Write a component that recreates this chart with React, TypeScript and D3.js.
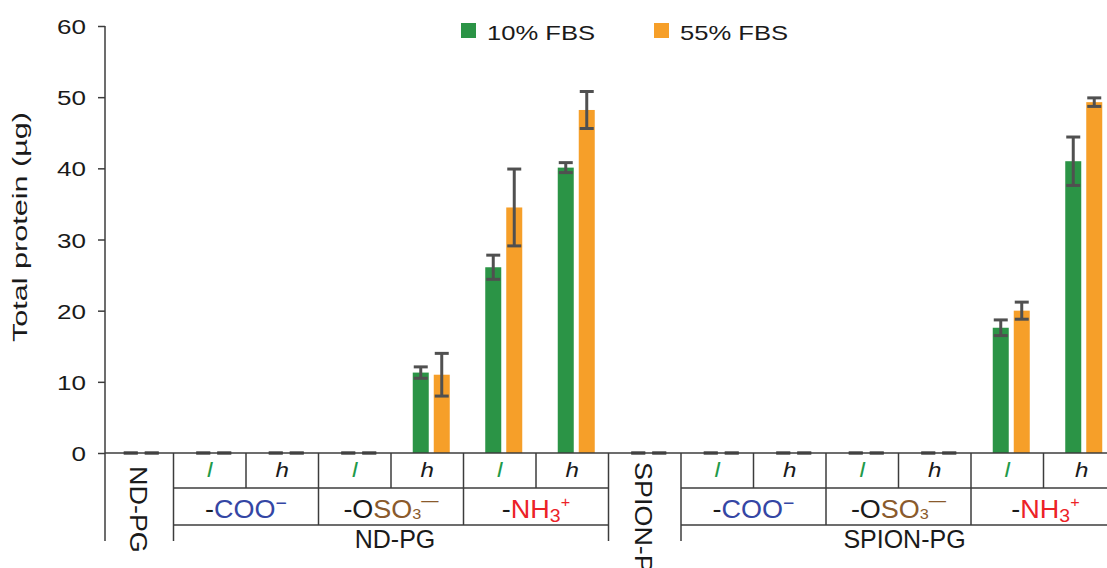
import React, { useRef, useEffect } from 'react';
import * as d3 from 'd3';

// chart data
const groups = ['ND-PG', 'SPION-PG'];
const ligands = ['COO', 'OSO3', 'NH3'];
const densities = ['l', 'h'];
const seriesNames = ['10% FBS', '55% FBS'];
const yTicks = [0, 10, 20, 30, 40, 50, 60];

// per group: bare, COO l, COO h, OSO3 l, OSO3 h, NH3 l, NH3 h
const fbs10 = [0, 0, 0, 0, 11.3, 26.1, 40.1, 0, 0, 0, 0, 0, 17.6, 41.0];
const fbs55 = [0, 0, 0, 0, 11.0, 34.5, 48.2, 0, 0, 0, 0, 0, 20.0, 49.3];
const err10 = [0, 0, 0, 0, 0.8, 1.7, 0.7, 0, 0, 0, 0, 0, 1.1, 3.4];
const err55 = [0, 0, 0, 0, 3.0, 5.4, 2.6, 0, 0, 0, 0, 0, 1.2, 0.6];

const colors = ['#2b9446', '#f69f29'];
const blue = '#3446a4';
const brown = '#8a5a2c';
const red = '#ec2227';
const lineColor = '#3c3c3c';
const textColor = '#1a1a1a';
const font = '"Liberation Sans", Arial, Helvetica, sans-serif';

function App() {
    const ref = useRef<SVGSVGElement>(null);

    useEffect(() => {
        const svg = d3.select(ref.current);
        svg.selectAll('*').remove();

        const cats: { id: string; group: string; ligand: string | null; density: string | null }[] = [];
        groups.forEach(g => {
            cats.push({ id: g, group: g, ligand: null, density: null });
            ligands.forEach(l => densities.forEach(d => cats.push({ id: g + '|' + l + '|' + d, group: g, ligand: l, density: d })));
        });

        const x = d3.scaleBand().domain(cats.map(c => c.id)).range([105, 105 + 72.5 * cats.length]);
        const y = d3.scaleLinear().domain([0, 60]).range([453, 26]);
        const inner = d3.scaleBand().domain(seriesNames).range([-18.5, 18.5]).paddingInner(0.238);

        const axisY = y(0);
        const row1 = 488, row2 = 525, tableBottom = 541;

        // bars
        const series = [fbs10, fbs55];
        const errs = [err10, err55];
        const g = svg.append('g');
        series.forEach((vals, s) => {
            g.selectAll('.bar' + s)
                .data(vals)
                .enter().append('rect')
                .attr('x', (d, i) => x(cats[i].id)! + x.bandwidth() / 2 + inner(seriesNames[s])!)
                .attr('y', d => y(d))
                .attr('width', inner.bandwidth())
                .attr('height', d => axisY - y(d))
                .attr('fill', colors[s]);
        });

        // error bars
        series.forEach((vals, s) => {
            vals.forEach((v, i) => {
                const cx = x(cats[i].id)! + x.bandwidth() / 2 + inner(seriesNames[s])! + inner.bandwidth() / 2;
                const e = errs[s][i];
                const eg = g.append('g').attr('stroke', '#505050').attr('stroke-width', 3);
                eg.append('line').attr('x1', cx).attr('x2', cx).attr('y1', y(v - e)).attr('y2', y(v + e));
                [v - e, v + e].forEach(t => {
                    eg.append('line').attr('x1', cx - 7).attr('x2', cx + 7).attr('y1', y(t)).attr('y2', y(t));
                });
            });
        });

        // y axis
        const yAxis = svg.append('g')
            .attr('transform', 'translate(105,0)')
            .call(d3.axisLeft(y).tickValues(yTicks).tickSize(7).tickSizeOuter(0));
        yAxis.select('.domain').remove();
        yAxis.selectAll('line').attr('stroke', lineColor).attr('stroke-width', 1.5);
        yAxis.selectAll('text')
            .attr('font-size', 21)
            .attr('font-family', font)
            .attr('fill', textColor)
            .attr('x', -19 / 1.24)
            .attr('dy', '0.36em')
            .attr('transform', 'scale(1.24,1)');

        svg.append('line').attr('x1', 105).attr('x2', 105).attr('y1', y(60)).attr('y2', tableBottom)
            .attr('stroke', lineColor).attr('stroke-width', 1.5);
        svg.append('line').attr('x1', 105).attr('x2', x.range()[1]).attr('y1', axisY).attr('y2', axisY)
            .attr('stroke', lineColor).attr('stroke-width', 1.5);

        svg.append('text')
            .attr('transform', 'translate(27,227) rotate(-90)')
            .attr('text-anchor', 'middle')
            .attr('font-family', font)
            .attr('font-size', 20)
            .attr('fill', textColor)
            .attr('textLength', 230)
            .attr('lengthAdjust', 'spacingAndGlyphs')
            .text('Total protein (\u00b5g)');

        // legend
        seriesNames.forEach((name, s) => {
            const lx = [461, 654][s];
            svg.append('rect').attr('x', lx).attr('y', 23).attr('width', 15).attr('height', 15).attr('fill', colors[s]);
            svg.append('text')
                .attr('x', lx + 26).attr('y', 40)
                .attr('font-family', font).attr('font-size', 21).attr('fill', textColor)
                .attr('textLength', 108).attr('lengthAdjust', 'spacingAndGlyphs')
                .text(name);
        });

        // category table under the axis
        const left = (i: number) => (i === 0 ? 105 : x(cats[i].id)! - 4);
        const right = (i: number) => (i === cats.length - 1 ? x.range()[1] : left(i + 1));
        const tg = svg.append('g').attr('stroke', lineColor).attr('stroke-width', 1.5);
        const vline = (xx: number, y2: number) =>
            tg.append('line').attr('x1', xx).attr('x2', xx).attr('y1', axisY).attr('y2', y2);

        cats.forEach((c, i) => {
            if (i > 0) {
                if (c.density === null) vline(left(i), tableBottom);
                else if (c.ligand === ligands[0] && c.density === densities[0]) vline(left(i), tableBottom);
                else if (c.density === densities[0]) vline(left(i), row2);
                else vline(left(i), row1);
            }
        });

        const tx = svg.append('g').attr('font-family', font).attr('fill', textColor);

        groups.forEach((gName, gi) => {
            const idx = cats.map((c, i) => i).filter(i => cats[i].group === gName);
            const bare = idx[0];
            const first = idx[1];
            const last = idx[idx.length - 1];
            const x0 = left(first), x1 = right(last);
            [row1, row2].forEach(yy => {
                tg.append('line').attr('x1', x0).attr('x2', x1).attr('y1', yy).attr('y2', yy);
            });

            // rotated label of bare particle
            const bc = (left(bare) + right(bare)) / 2 - 1;
            tx.append('text')
                .attr('transform', 'translate(' + bc + ',' + (gi === 0 ? 466 : 462) + ') rotate(90) scale(1.1,1)')
                .attr('font-size', 24.5)
                .attr('dominant-baseline', 'central')
                .text(gName);

            // group name
            tx.append('text')
                .attr('x', (x0 + x1) / 2 + 4).attr('y', 548)
                .attr('text-anchor', 'middle')
                .attr('font-size', 25)
                .text(gName);

            // density labels
            idx.slice(1).forEach(i => {
                const c = cats[i];
                tx.append('text')
                    .attr('transform', 'translate(' + (left(i) + right(i)) / 2 + ',477) scale(1.15,1)')
                    .attr('text-anchor', 'middle')
                    .attr('font-size', 21)
                    .attr('font-style', 'italic')
                    .attr('fill', c.density === 'l' ? '#1f9a4a' : textColor)
                    .text(c.density!);
            });

            // ligand labels
            ligands.forEach(l => {
                const li = idx.filter(i => cats[i].ligand === l);
                const cx = (left(li[0]) + right(li[li.length - 1])) / 2;
                const t = tx.append('text')
                    .attr('transform', 'translate(' + cx + ',518) scale(1.08,1)')
                    .attr('text-anchor', 'middle')
                    .attr('font-size', 25);
                if (l === 'COO') {
                    t.append('tspan').text('-');
                    t.append('tspan').attr('fill', blue).text('COO');
                    t.append('tspan').attr('fill', blue).attr('font-size', 18).attr('dy', -9).text('\u2212');
                } else if (l === 'OSO3') {
                    t.append('tspan').text('-O');
                    t.append('tspan').attr('fill', brown).text('SO');
                    t.append('tspan').attr('fill', brown).attr('font-size', 15).attr('dy', 1).text('3');
                    t.append('tspan').attr('fill', brown).attr('font-size', 16).attr('dy', -13).text('\u2014');
                } else {
                    t.append('tspan').text('-');
                    t.append('tspan').attr('fill', red).text('NH');
                    t.append('tspan').attr('fill', red).attr('font-size', 18).attr('dy', 4).text('3');
                    t.append('tspan').attr('fill', red).attr('font-size', 15).attr('dy', -15).text('+');
                }
            });
        });
    }, []);

    return (
        <svg ref={ref} width="1107" height="568" style={{ position: 'absolute', left: 0, top: 0, background: '#fff' }}></svg>
    );
}

export default App;
